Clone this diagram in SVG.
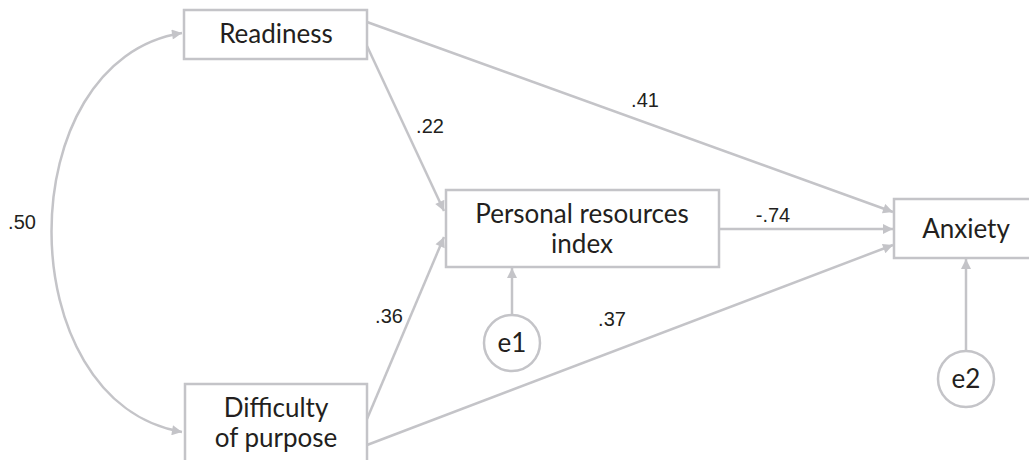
<svg xmlns="http://www.w3.org/2000/svg" width="1029" height="460" viewBox="0 0 1029 460">
<style>
.box{fill:#fff;stroke:#c4c4c8;stroke-width:2.5}
.ln{fill:none;stroke:#c4c4c8;stroke-width:2.5}
.t{font-family:Lato,"Open Sans",sans-serif;font-size:26px;fill:#231f20;text-anchor:middle}
.l{font-family:"Liberation Sans",Arial,sans-serif;font-size:20px;fill:#231f20;text-anchor:middle}
</style>
<defs>
<marker id="ah" viewBox="0 0 10 10" refX="10" refY="5" markerWidth="11" markerHeight="10" orient="auto-start-reverse" markerUnits="userSpaceOnUse">
<path d="M0,0 L10,5 L0,10 z" fill="#c4c4c8"/>
</marker>
</defs>
<rect width="1029" height="460" fill="#fff"/>
<g id="connectors">
<path class="ln" d="M182,33 C8,60 8,402 182,432" marker-start="url(#ah)" marker-end="url(#ah)"/>
<line class="ln" x1="367" y1="22" x2="893" y2="212" marker-end="url(#ah)"/>
<line class="ln" x1="367" y1="46" x2="444" y2="211" marker-end="url(#ah)"/>
<line class="ln" x1="367" y1="419" x2="444" y2="237" marker-end="url(#ah)"/>
<line class="ln" x1="367" y1="445" x2="893" y2="245" marker-end="url(#ah)"/>
<line class="ln" x1="719" y1="229" x2="893" y2="229" marker-end="url(#ah)"/>
<line class="ln" x1="512" y1="315" x2="512" y2="268" marker-end="url(#ah)"/>
<line class="ln" x1="966" y1="351" x2="966" y2="259" marker-end="url(#ah)"/>
<text class="l" x="22" y="229">.50</text>
<text class="l" x="430" y="133">.22</text>
<text class="l" x="645" y="107">.41</text>
<text class="l" x="389" y="323">.36</text>
<text class="l" x="612" y="326">.37</text>
<text class="l" x="773" y="222">-.74</text>
</g>
<g id="readiness"><rect class="box" x="184" y="10" width="183" height="49"/><text class="t" x="276" y="43">Readiness</text></g>
<g id="difficulty"><rect class="box" x="185" y="384" width="182" height="90"/><text class="t" x="276" y="417">Difficulty</text><text class="t" x="276" y="447">of purpose</text></g>
<g id="personal"><rect class="box" x="446" y="190" width="273" height="77"/><text class="t" x="582" y="223">Personal resources</text><text class="t" x="582" y="253">index</text></g>
<g id="anxiety"><rect class="box" x="894" y="199" width="140" height="59"/><text class="t" x="966" y="238">Anxiety</text></g>
<g id="e1"><circle class="box" cx="512" cy="343" r="28"/><text class="t" x="512" y="352">e1</text></g>
<g id="e2"><circle class="box" cx="966" cy="379" r="28"/><text class="t" x="966" y="388">e2</text></g>
</svg>
